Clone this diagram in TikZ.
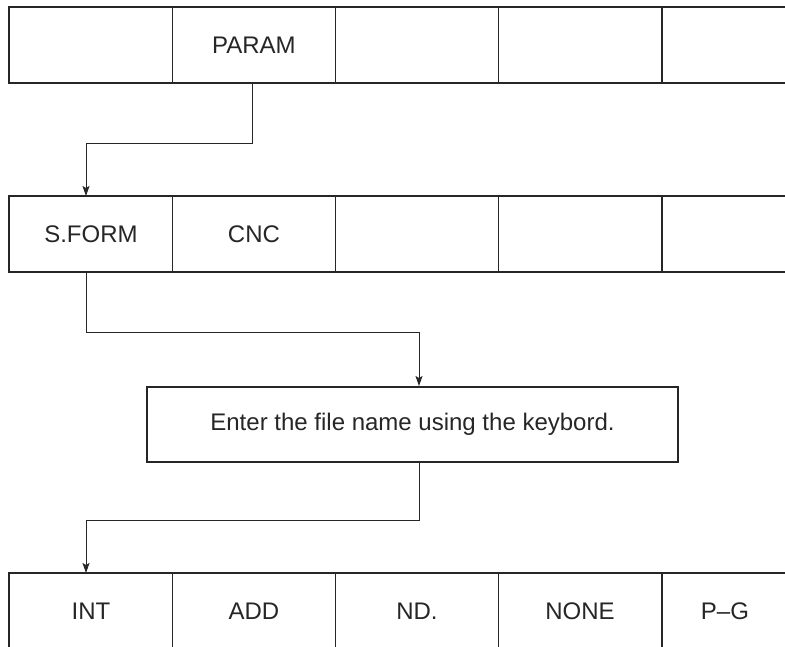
\documentclass[tikz,border=0pt]{standalone}
\usepackage{fontspec}
\setmainfont{Liberation Sans}
\usetikzlibrary{arrows.meta}
\begin{document}
\begin{tikzpicture}[x=1pt,y=-1pt,
  cell/.style={draw=black!85,line width=0.9pt,minimum width=163pt,minimum height=75pt,
    inner sep=0pt,anchor=north west,font=\fontsize{24}{28}\selectfont,text=black!85},
  lastcell/.style={cell,minimum width=125pt},
  frame/.style={draw=black!85,line width=2pt},
  conn/.style={draw=black!85,line width=0.9pt},
  arr/.style={conn,-{Stealth[length=10pt,width=7pt,inset=2pt]}}]
\useasboundingbox (0,0) rectangle (785,647);
\clip (0,0) rectangle (785,647);
% row 1
\node[cell] (a1) at (9,7) {};
\node[cell] (a2) at (172,7) {PARAM};
\node[cell] (a3) at (335,7) {};
\node[cell] (a4) at (498,7) {};
\node[lastcell] (a5) at (662,7) {};
\draw[frame] (a1.south west) rectangle (a5.north east);
% row 2
\node[cell] (b1) at (9,196) {S.FORM};
\node[cell] (b2) at (172,196) {CNC};
\node[cell] (b3) at (335,196) {};
\node[cell] (b4) at (498,196) {};
\node[lastcell] (b5) at (662,196) {};
\draw[frame] (b1.south west) rectangle (b5.north east);
% middle box
\node[cell,frame,minimum width=531pt] (m) at (146,386) {Enter the file name using the keybord.};
% row 4
\node[cell] (c1) at (9,573) {INT};
\node[cell] (c2) at (172,573) {ADD};
\node[cell] (c3) at (335,573) {ND.};
\node[cell] (c4) at (498,573) {NONE};
\node[lastcell] (c5) at (662,573) {P--G};
\draw[frame] (c1.south west) rectangle (c5.north east);
% connectors
\coordinate (t1) at (86,143);
\coordinate (t2) at (419,332);
\coordinate (t3) at (86,520);
\draw[arr] ([xshift=-1.5pt]a2.south) |- (t1) -- (t1 |- b1.north);
\draw[arr] (t1 |- b1.south) |- (t2) -- (t2 |- m.north);
\draw[arr] ([xshift=6.5pt]m.south) |- (t3) -- (t3 |- c1.north);
\end{tikzpicture}
\end{document}
